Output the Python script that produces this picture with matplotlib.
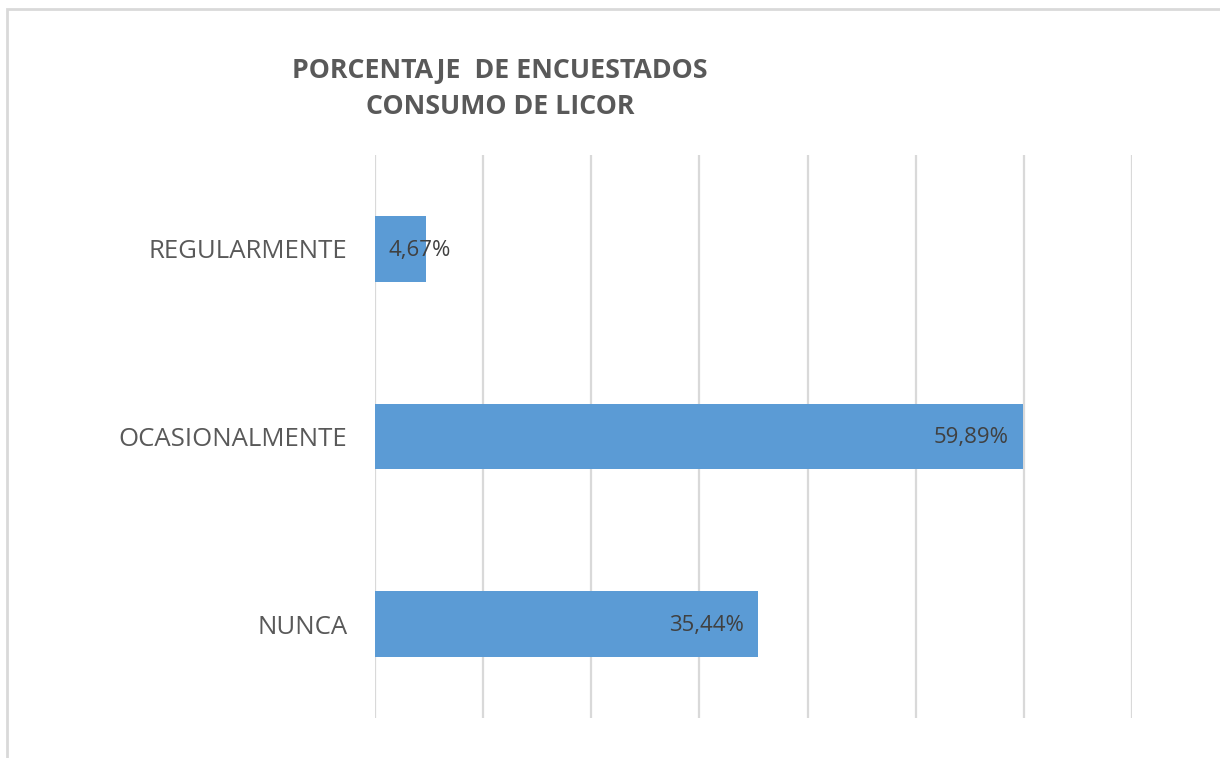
import matplotlib.pyplot as plt
from matplotlib.patches import Rectangle

# Datos
categorias = ['NUNCA', 'OCASIONALMENTE', 'REGULARMENTE']
porcentajes = [35.44, 59.89, 4.67]
etiquetas = ['35,44%', '59,89%', '4,67%']
titulo = 'PORCENTAJE  DE ENCUESTADOS\nCONSUMO DE LICOR'

gris_texto = '#595959'
gris_grid = '#D9D9D9'
azul = '#5B9BD5'

plt.rcParams['font.family'] = ['Open Sans', 'DejaVu Sans']

fig = plt.figure(figsize=(12.2, 7.58), dpi=100)
ax = fig.add_axes([0.3074, 0.0528, 0.6205, 0.7427])

# marco del gráfico (solo visible arriba e izquierda)
fig.add_artist(Rectangle((7 / 1220, -0.2), 1.5, 1.2 - 9 / 758, transform=fig.transFigure,
                         fill=False, edgecolor=gris_grid, lw=2, clip_on=False))

y = range(len(categorias))
ax.barh(y, porcentajes, height=0.35, color=azul, zorder=3)

ax.set_xlim(0, 70)
ax.set_ylim(-0.5, 2.5)
ax.set_xticks(range(0, 71, 10))
ax.xaxis.grid(True, color=gris_grid, lw=1.6, zorder=0)
ax.tick_params(axis='x', length=0, labelbottom=False)
ax.tick_params(axis='y', length=0, pad=20)
ax.set_yticks(list(y))
ax.set_yticklabels(categorias, fontsize=18.5, color=gris_texto)
for s in ax.spines.values():
    s.set_visible(False)

# etiquetas de datos
for i, (v, t) in enumerate(zip(porcentajes, etiquetas)):
    if v > 10:
        ax.annotate(t, (v, i), xytext=(-10, -1), textcoords='offset points',
                    ha='right', va='center', fontsize=16, color='#404040', zorder=4)
    else:
        ax.annotate(t, (0, i), xytext=(10, -1), textcoords='offset points',
                    ha='left', va='center', fontsize=16, color='#404040', zorder=4)

fig.text(500 / 1220, 1 - 89 / 758, titulo, ha='center', va='center', fontsize=19.3,
         fontweight='bold', color=gris_texto, linespacing=1.55)

fig.savefig('out.png', dpi=100, facecolor='white')
